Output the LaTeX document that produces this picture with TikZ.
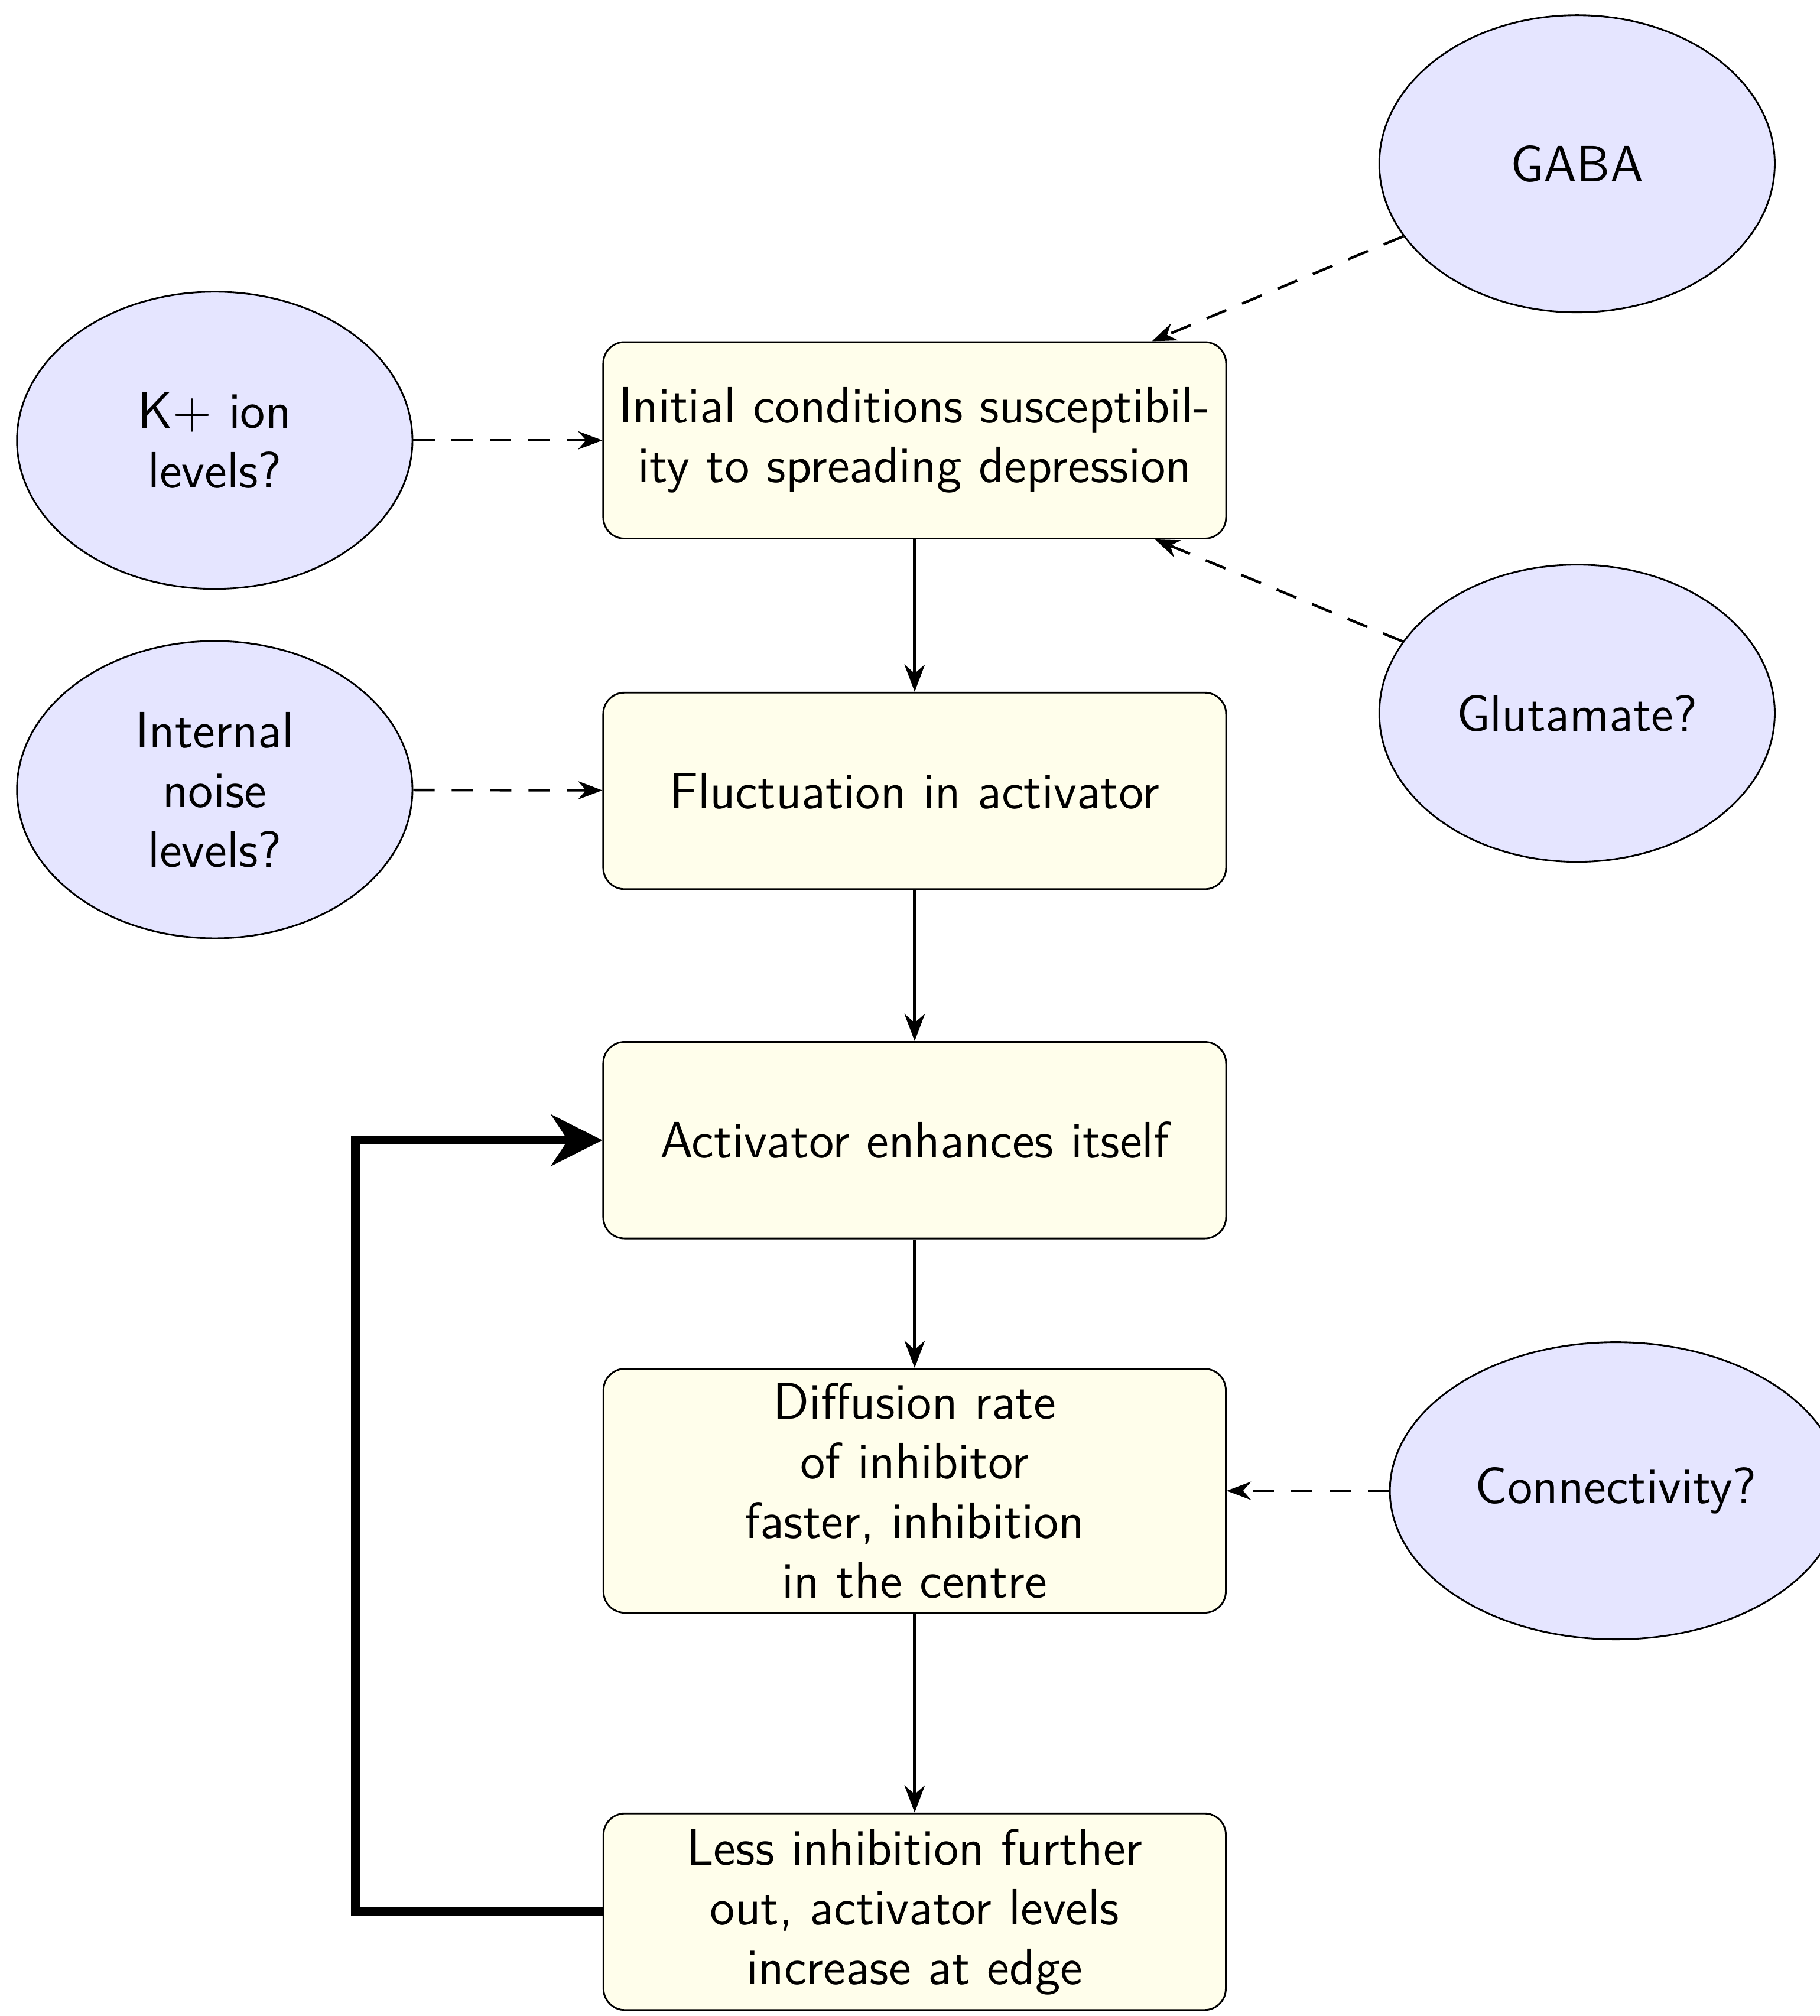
\documentclass[tikz,border=0pt]{standalone}
\usepackage{tikz}
\usetikzlibrary{shapes.geometric,arrows.meta}

\begin{document}
\sffamily
\begin{tikzpicture}[box/.style={draw, rectangle, rounded corners=5, fill=yellow!8, minimum width=5.13cm, minimum height=1.62cm, align=center, font=\large}, cause/.style={draw, ellipse, fill=blue!10, minimum width=3.26cm, minimum height=2.45cm, text width=2cm, align=center, font=\large}, n/.style={-Stealth, line width=0.75pt}, d/.style={-Stealth, line width=0.6pt, dashed, dash pattern=on 5pt off 4pt}, loop/.style={-{Stealth[length=12pt,width=12pt]}, line width=2pt}]
            \useasboundingbox (0,0) rectangle (15,-16.62);
            % boxes
            \node[box, text width=4.9cm] (init) at (7.54,-3.63) {Initial conditions susceptibility to spreading depression};
            \node[box, text width=4.9cm] (fluct) at (7.54,-6.52) {Fluctuation in activator};
            \node[box, text width=4.9cm] (act) at (7.54,-9.40) {Activator enhances itself};
            \node[box, text width=3.5cm] (diff) at (7.54,-12.29) {Diffusion rate of inhibitor faster, inhibition in the centre};
            \node[box, text width=3.9cm] (less) at (7.54,-15.76) {Less inhibition further out, activator levels increase at edge};
            % causes
            \node[cause] (kion) at (1.77,-3.63) {K+ ion levels?};
            \node[cause] (noise) at (1.77,-6.51) {Internal noise levels?};
            \node[cause] (gaba) at (13.0,-1.35) {GABA};
            \node[cause] (glu) at (13.0,-5.88) {Glutamate?};
            \node[cause, text width=2.4cm] (conn) at (13.32,-12.29) {Connectivity?};
            \coordinate (c1) at (2.93,-15.76);
            \coordinate (c2) at (2.93,-9.40);
            % edges
            \draw [n] (init) -- (fluct);
            \draw [n] (fluct) -- (act);
            \draw [n] (act) -- (diff);
            \draw [n] (diff) -- (less);
            \draw [d] (kion) -- (init);
            \draw [d] (noise) -- (fluct);
            \draw [d] (gaba) -- (init);
            \draw [d] (glu) -- (init);
            \draw [d] (conn) -- (diff);
            \draw [loop] (less.west) -- (c1) -- (c2) -- (act.west);
        \end{tikzpicture}
\end{document}
